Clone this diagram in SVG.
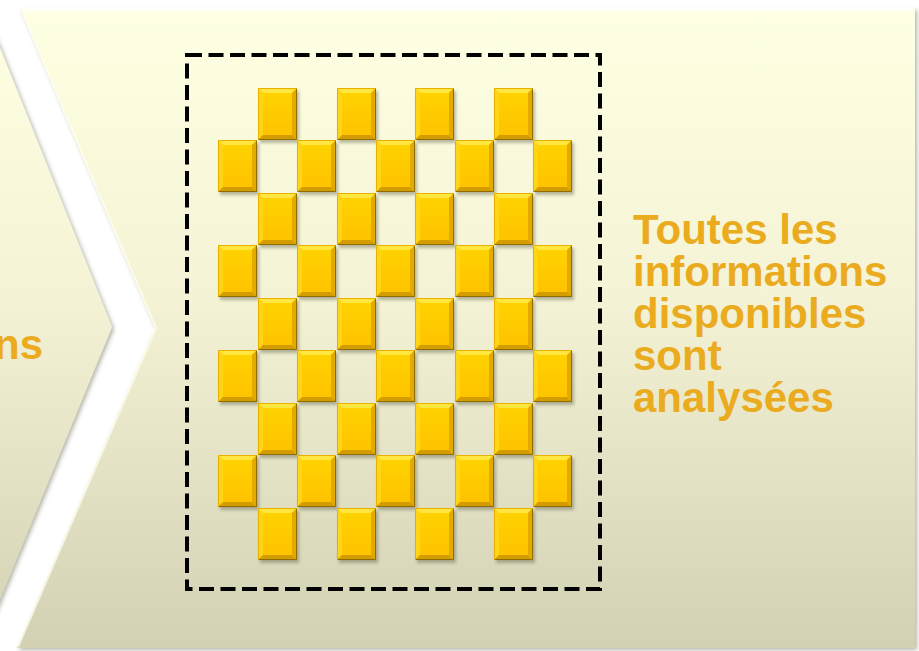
<svg xmlns="http://www.w3.org/2000/svg" width="919" height="651" viewBox="0 0 919 651">
<defs>
<linearGradient id="bg" x1="0" y1="0" x2="0" y2="1">
<stop offset="0" stop-color="#FFFFE3"/>
<stop offset="0.45" stop-color="#F4F3D5"/>
<stop offset="1" stop-color="#D2D1B3"/>
</linearGradient>
<linearGradient id="tc" x1="0" y1="0" x2="0" y2="1">
<stop offset="0" stop-color="#FFD200"/>
<stop offset="1" stop-color="#FFC300"/>
</linearGradient>
<filter id="sh" x="-10%" y="-10%" width="120%" height="120%">
<feDropShadow dx="2" dy="2" stdDeviation="2" flood-color="#5a5a40" flood-opacity="0.45"/>
</filter>
<filter id="tsh" x="-20%" y="-20%" width="150%" height="150%">
<feDropShadow dx="2" dy="3" stdDeviation="1.8" flood-color="#555540" flood-opacity="0.4"/>
</filter>
<g id="tile">
<rect x="0" y="0" width="39" height="52" fill="#FFC800"/>
<polygon points="0,0 39,0 34,5 5,5" fill="#FFE640"/>
<polygon points="0,0 5,5 5,47 0,52" fill="#FFD516"/>
<polygon points="39,0 39,52 34,47 34,5" fill="#E3AB00"/>
<polygon points="0,52 39,52 34,47 5,47" fill="#D39C00"/>
<rect x="5" y="5" width="29" height="42" fill="url(#tc)"/>
<path d="M0.5,51.5 H38.5 V0.5" fill="none" stroke="#8E6C00" stroke-width="1"/>
<path d="M0.5,51.5 V0.5 H38.5" fill="none" stroke="#E9B000" stroke-width="1"/>
</g>
<style>
.lbl{font-family:"Liberation Sans",Arial,sans-serif;font-weight:bold;font-size:42px;fill:#EAAB1F}
.dash{fill:none;stroke:#000;stroke-width:4;stroke-dasharray:15 6.5}
</style>
</defs>
<rect width="919" height="651" fill="#FFFFFF"/>
<g id="prev-step">
<polygon points="-30,8 -16,8 112,327 -20,648 -30,648" fill="url(#bg)" filter="url(#sh)"/>
<text class="lbl" x="43" y="359" text-anchor="end">ns</text>
</g>
<g id="step">
<polygon points="20,8 915,8 915,648 17,648 155,328" fill="url(#bg)" filter="url(#sh)"/>
<polyline points="22,9 914,9" stroke="#FFFFFF" stroke-width="4" opacity="0.8" fill="none"/>
<polyline points="21,9 156,328 18,647" stroke="#FFFFEE" stroke-width="2" opacity="0.7" fill="none"/>
<rect class="dash" x="187" y="55" width="413" height="534"/>
<g id="grid" filter="url(#tsh)">
<use href="#tile" x="258" y="88"/><use href="#tile" x="337" y="88"/><use href="#tile" x="415" y="88"/><use href="#tile" x="494" y="88"/>
<use href="#tile" x="218" y="140"/><use href="#tile" x="297" y="140"/><use href="#tile" x="376" y="140"/><use href="#tile" x="455" y="140"/><use href="#tile" x="533" y="140"/>
<use href="#tile" x="258" y="193"/><use href="#tile" x="337" y="193"/><use href="#tile" x="415" y="193"/><use href="#tile" x="494" y="193"/>
<use href="#tile" x="218" y="245"/><use href="#tile" x="297" y="245"/><use href="#tile" x="376" y="245"/><use href="#tile" x="455" y="245"/><use href="#tile" x="533" y="245"/>
<use href="#tile" x="258" y="298"/><use href="#tile" x="337" y="298"/><use href="#tile" x="415" y="298"/><use href="#tile" x="494" y="298"/>
<use href="#tile" x="218" y="350"/><use href="#tile" x="297" y="350"/><use href="#tile" x="376" y="350"/><use href="#tile" x="455" y="350"/><use href="#tile" x="533" y="350"/>
<use href="#tile" x="258" y="403"/><use href="#tile" x="337" y="403"/><use href="#tile" x="415" y="403"/><use href="#tile" x="494" y="403"/>
<use href="#tile" x="218" y="455"/><use href="#tile" x="297" y="455"/><use href="#tile" x="376" y="455"/><use href="#tile" x="455" y="455"/><use href="#tile" x="533" y="455"/>
<use href="#tile" x="258" y="508"/><use href="#tile" x="337" y="508"/><use href="#tile" x="415" y="508"/><use href="#tile" x="494" y="508"/>
</g>
<text class="lbl" x="633"><tspan x="633" y="244">Toutes les</tspan><tspan x="633" y="286">informations</tspan><tspan x="633" y="328">disponibles</tspan><tspan x="633" y="370">sont</tspan><tspan x="633" y="412">analysées</tspan></text>
</g>
</svg>
